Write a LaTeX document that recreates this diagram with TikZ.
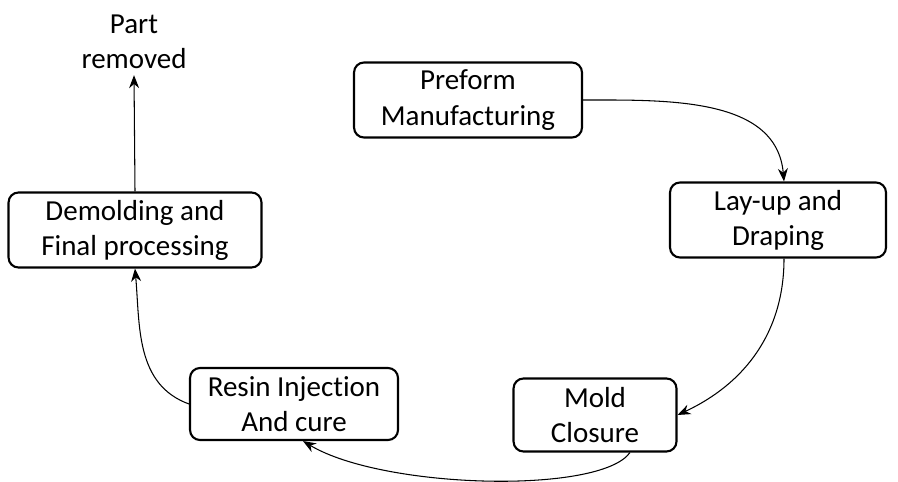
\documentclass[tikz,border=0pt]{standalone}
\usepackage{fontspec}
\setmainfont{Carlito}[Ligatures={NoCommon}]
\usetikzlibrary{arrows.meta, positioning, calc}

\begin{document}
\begin{tikzpicture}[
        x=0.02cm, y=-0.02cm,
        stepbox/.style={draw, rounded corners=0.2cm, line width=1.2pt, minimum height=1.5cm,
                        align=center, inner sep=2pt, font=\fontsize{16.5}{20}\selectfont},
        flow/.style={-{Stealth[length=2.6mm, width=2mm]}, line width=0.6pt},
        label_text/.style={align=center, font=\fontsize{16.5}{20}\selectfont}
    ]

    % --- canvas ---
    \useasboundingbox (0,0) rectangle (898,482);

    % --- Process steps ---
    \node[stepbox, minimum width=4.56cm] (preform) at (468,100) {Preform\\Manufacturing};
    \node[stepbox, minimum width=4.32cm] (layup) at (778,220) {Lay-up and\\Draping};
    \node[stepbox, minimum width=3.26cm, minimum height=1.46cm] (mold) at (595,415) {Mold\\Closure};
    \node[stepbox, minimum width=4.16cm, minimum height=1.44cm] (resin) at (294,404) {Resin Injection\\And cure};
    \node[stepbox, minimum width=5.06cm] (demold) at (135,230) {Demolding and\\Final processing};
    \node[label_text] (part) at (134,42) {Part\\removed};

    % --- Cycle ---
    \draw[flow] (preform.east) to[out=0, in=95] ([xshift=0.12cm]layup.north);
    \draw[flow] ([xshift=0.12cm]layup.south) to[out=-90, in=25] (mold.east);
    \draw[flow] ([xshift=0.7cm]mold.south) .. controls +(-30,42) and +(80,48) .. ([xshift=0.18cm]resin.south);
    \draw[flow] (resin.west) to[out=160, in=-85] (demold.south);

    % part leaves the cycle
    \draw[flow] (demold.north) -- (part.south);

\end{tikzpicture}
\end{document}
